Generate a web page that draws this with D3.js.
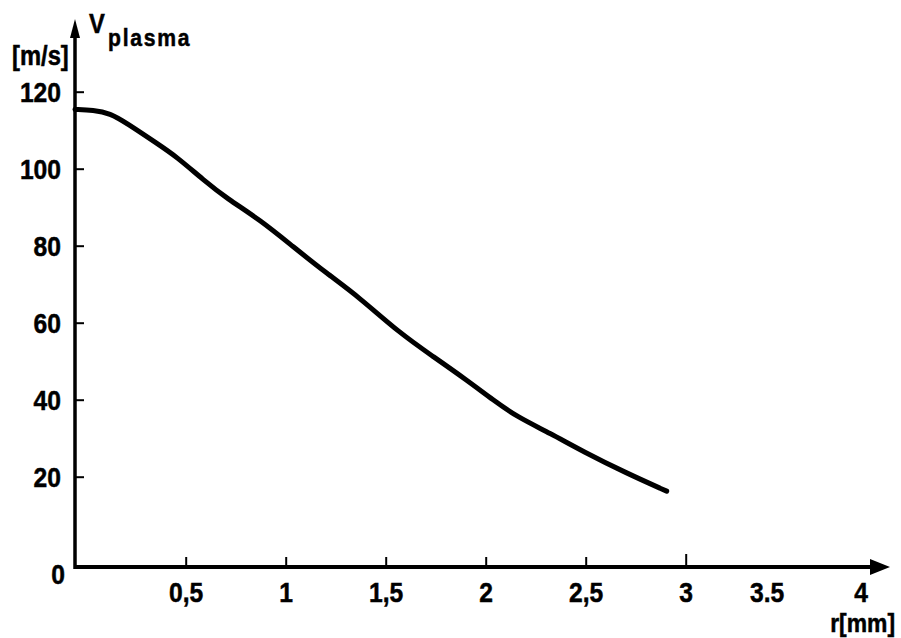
<!DOCTYPE html>
<html>
<head>
<meta charset="utf-8">
<script src="https://cdn.jsdelivr.net/npm/d3@7"></script>
<style>
  body { margin: 0; background: #fff; }
  svg { display: block; }
  .lbl { font-family: "Liberation Sans", Arial, sans-serif; font-weight: bold; fill: #000; stroke: #000; stroke-width: 0.5px; }
</style>
</head>
<body>
<div class="chart"></div>
<script>
// radius r [mm] and plasma velocity [m/s]
var rValues = [0, 0.083, 0.158, 0.234, 0.369, 0.459, 0.588, 0.705, 0.872, 1.038, 1.205, 1.363,
               1.572, 1.738, 1.905, 2.038, 2.155, 2.322, 2.488, 2.705, 2.905];
var vPlasma = [115.4, 115.2, 114.4, 111.8, 106.6, 103.1, 97.1, 92.3, 86.7, 79.7, 72.8, 66.8,
               57.2, 51.2, 45.1, 39.9, 35.6, 31.3, 26.5, 20.9, 16.8];

var xTickValues = [0.5, 1, 1.5, 2, 2.5, 3, 3.5, 4],
    xTickLabels = ["0,5", "1", "1,5", "2", "2,5", "3", "3.5", "4"],
    xTicksMarked = [0.5, 1, 1.5, 2, 2.5, 3];
var yTickValues = [0, 20, 40, 60, 80, 100, 120];

var width = 901, height = 638,
    squeeze = 0.88,   // the printed font is a condensed one
    fs = 28;

var svg = d3.select(".chart").append("svg")
  .attr("width", width)
  .attr("height", height);

// the printed axis is not evenly spaced, so the scales are piecewise
var x = d3.scaleLinear()
  .domain([0, 0.5, 3, 3.5, 4])
  .range([75, 185.7, 685.7, 766.7, 860.7]);

var y = d3.scaleLinear()
  .domain([0, 20, 120])
  .range([567, 476.7, 91.7]);

function condensed(sel, dx, dy) {
  sel.attr("x", 0).attr("y", 0)
    .attr("transform", (d, i) => `translate(${typeof dx == "function" ? dx(d, i) : dx}, ${typeof dy == "function" ? dy(d, i) : dy}) scale(${squeeze}, 1)`);
}

// x axis
var xAxis = d3.axisBottom(x)
  .tickValues(xTickValues)
  .tickFormat((d, i) => xTickLabels[i])
  .tickSize(-10)
  .tickPadding(15);

var gx = svg.append("g")
  .attr("transform", `translate(0, ${y(0)})`)
  .call(xAxis);
gx.select(".domain").remove();
gx.selectAll(".tick line")
  .attr("stroke", "#000")
  .attr("stroke-width", 2)
  .attr("display", d => xTicksMarked.indexOf(d) >= 0 ? null : "none")
  .attr("y2", d => d === 3 ? -13 : -10);
gx.selectAll(".tick text")
  .attr("class", "lbl")
  .style("font-size", fs + "px")
  .attr("fill", "#000")
  .attr("dy", "0.71em")
  .call(condensed, 0, 15);

// y axis
var yAxis = d3.axisLeft(y)
  .tickValues(yTickValues)
  .tickFormat(d3.format("d"))
  .tickSize(-9)
  .tickPadding(14);

var gy = svg.append("g")
  .attr("transform", `translate(${x(0)}, 0)`)
  .call(yAxis);
gy.select(".domain").remove();
gy.selectAll(".tick line")
  .attr("stroke", "#000")
  .attr("stroke-width", 2)
  .attr("display", d => d === 0 ? "none" : null);
gy.selectAll(".tick text")
  .attr("class", "lbl")
  .style("font-size", fs + "px")
  .attr("fill", "#000")
  .attr("dy", "0.36em")
  .call(condensed, d => d === 0 ? -10 : -14, d => d === 0 ? 6 : 0);

// axis lines with arrow heads
svg.append("line")
  .attr("x1", x(0)).attr("x2", 876)
  .attr("y1", y(0)).attr("y2", y(0))
  .attr("stroke", "#000").attr("stroke-width", 4);
svg.append("path")
  .attr("d", `M870,${y(0) - 8} L890,${y(0)} L870,${y(0) + 8} Z`)
  .attr("fill", "#000");

svg.append("line")
  .attr("x1", x(0)).attr("x2", x(0))
  .attr("y1", y(0) + 2).attr("y2", 34)
  .attr("stroke", "#000").attr("stroke-width", 3.5);
svg.append("path")
  .attr("d", `M${x(0) - 5},38 L${x(0)},19 L${x(0) + 5},38 Z`)
  .attr("fill", "#000");

// curve
var line = d3.line()
  .x(d => x(d[0]))
  .y(d => y(d[1]))
  .curve(d3.curveBasis);

svg.append("path")
  .datum(d3.zip(rValues, vPlasma))
  .attr("d", line)
  .attr("fill", "none")
  .attr("stroke", "#000")
  .attr("stroke-width", 5)
  .attr("stroke-linecap", "round")
  .attr("stroke-linejoin", "round");

// axis titles
svg.append("text").attr("class", "lbl")
  .style("font-size", "27px")
  .text("V")
  .call(condensed, 89, 33);
svg.append("text").attr("class", "lbl")
  .style("font-size", "24px")
  .style("letter-spacing", "2px")
  .text("plasma")
  .call(condensed, 108, 46);
svg.append("text").attr("class", "lbl")
  .style("font-size", "27px")
  .text("[m/s]")
  .call(condensed, 12, 65);
svg.append("text").attr("class", "lbl")
  .attr("text-anchor", "end")
  .style("font-size", "26px")
  .text("r[mm]")
  .call(condensed, 895, 632);
</script>
</body>
</html>
